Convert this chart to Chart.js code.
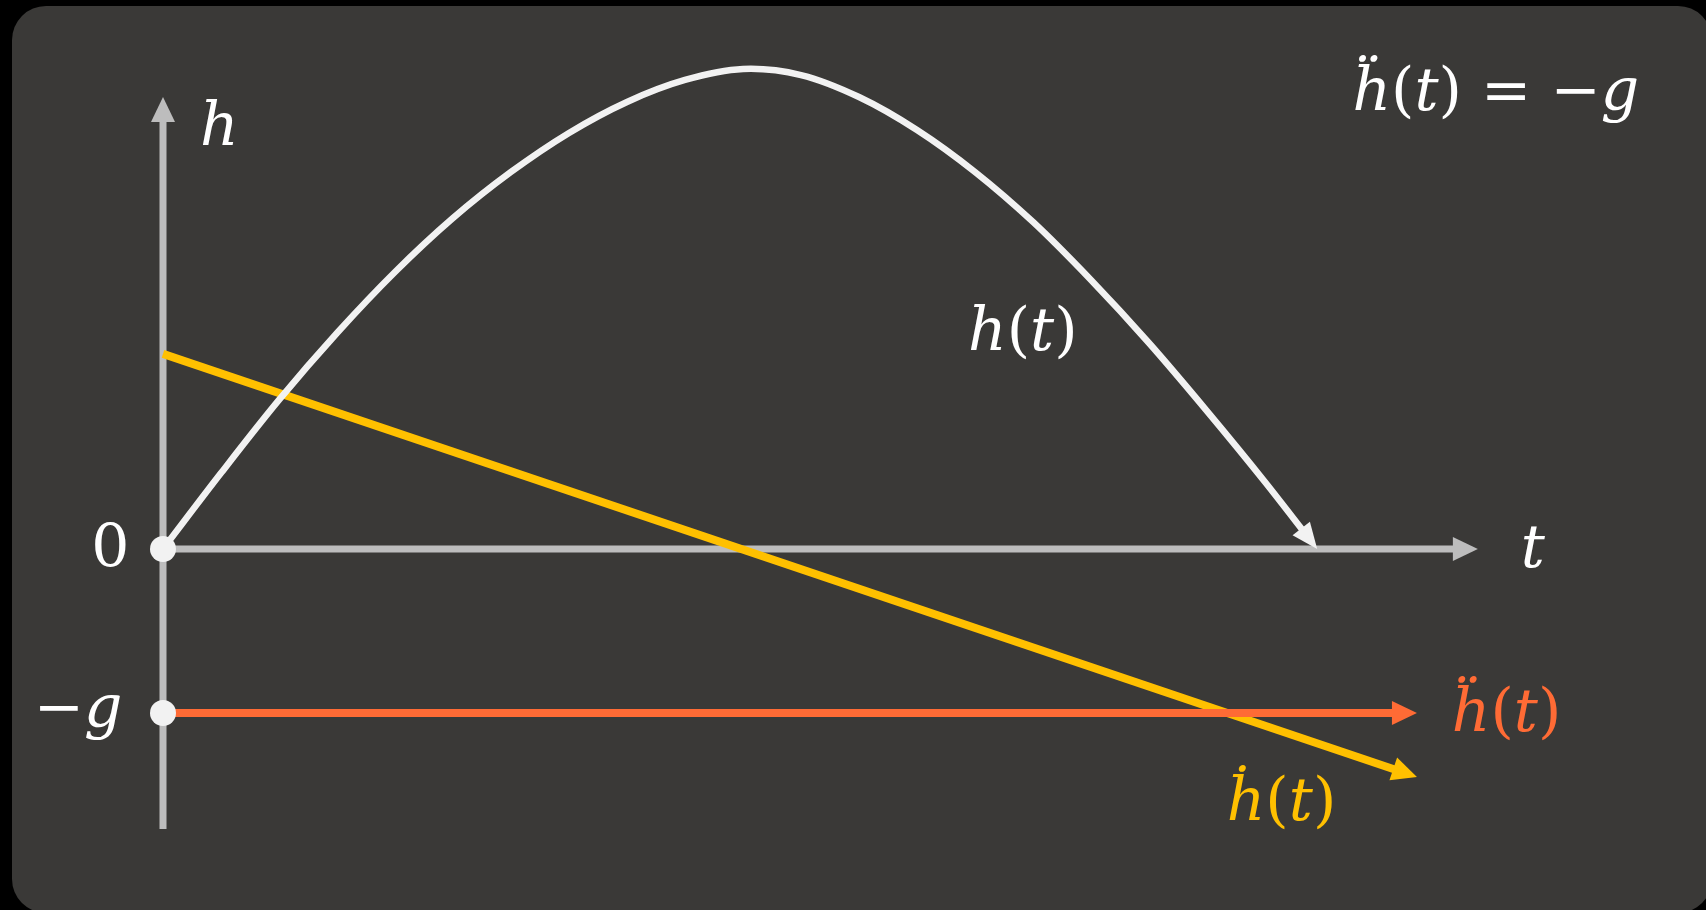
<!DOCTYPE html>
<html lang="en">
<head>
    <meta charset="UTF-8">
    <title>h(t), ḣ(t), ḧ(t)</title>
    <script src="https://cdn.jsdelivr.net/npm/chart.js"></script>
    <style>
        html, body { margin: 0; padding: 0; background: #000; overflow: hidden; }
        .panel { position: absolute; left: 12px; top: 6px; width: 1700px; height: 907px;
                 border-radius: 34px; background: #3a3937; }
        #plot { position: absolute; left: 0; top: 0; }
    </style>
</head>
<body>
    <div class="panel"></div>
    <canvas id="plot" width="1706" height="910"></canvas>

    <script>
        // height of the thrown object, h(t)
        var curveT = [0, 0.1, 0.2, 0.3, 0.4, 0.5, 0.6, 0.7, 0.8, 0.9, 1.0, 1.1, 1.2, 1.3, 1.4, 1.5, 1.6, 1.7, 1.8, 1.9, 1.99];
        var curveH = [0, 0.463, 0.909, 1.317, 1.689, 2.018, 2.299, 2.537, 2.726, 2.860, 2.927,
                      2.890, 2.756, 2.555, 2.299, 1.994, 1.640, 1.256, 0.841, 0.409, 0];

        // velocity ḣ(t): straight line from v0 down past zero
        var velT = [0, 2.162];
        var velH = [1.19, -1.39];

        // acceleration ḧ(t) = -g
        var accT = [0, 2.162];
        var accH = [-1, -1];

        // axes
        var tAxisT = [0, 2.267];
        var hAxisH = [-1.707, 2.756];

        // marked values on the h axis: 0 and -g
        var markH = [0, -1];

        // layout: pixels per unit and where the origin sits on the canvas
        var PX_T = 580, PX_H = 164, ORIGIN_X = 163, ORIGIN_Y = 549;
        var W = 1706, H = 910;

        var GRAY = '#bdbdbd', WHITE = '#f2f2f2', YELLOW = '#ffc000', ORANGE = '#ff6b35';
        var FONT = '"DejaVu Serif", "Liberation Serif", serif';
        var SIZE = 60;

        function pts(xs, ys) {
            return xs.map(function (x, i) { return { x: x, y: ys[i] }; });
        }

        // text labels: runs of [text, italic?]
        var labels = [
            { runs: [['h', 1]], t: 0.064, h: 2.463, align: 'left', color: '#ffffff' },
            { runs: [['t', 1]], t: 2.341, h: -0.110, align: 'left', color: '#ffffff' },
            { runs: [['0', 0]], t: -0.058, h: -0.110, align: 'right', color: '#ffffff' },
            { runs: [['\u2212', 0], ['g', 1]], t: -0.070, h: -1.085, align: 'right', color: '#ffffff' },
            { runs: [['h', 1], ['(', 0], ['t', 1], [')', 0]], t: 1.388, h: 1.214, align: 'left', color: '#ffffff' },
            { runs: [['\u1e23', 1], ['(', 0], ['t', 1], [')', 0]], t: 1.834, h: -1.652, align: 'left', color: YELLOW },
            { runs: [['\u1e27', 1], ['(', 0], ['t', 1], [')', 0]], t: 2.222, h: -1.110, align: 'left', color: ORANGE },
            { runs: [['\u1e27', 1], ['(', 0], ['t', 1], [') = \u2212', 0], ['g', 1]], t: 2.545, h: 2.677, align: 'right', color: '#ffffff' }
        ];

        function arrowGeom(chart, index) {
            var ds = chart.data.datasets[index];
            var p = chart.getDatasetMeta(index).data;
            var a = p[p.length - 2], b = p[p.length - 1];
            var dx = b.x - a.x, dy = b.y - a.y, d = Math.hypot(dx, dy);
            return { tx: b.x, ty: b.y, ux: dx / d, uy: dy / d, len: ds.arrowLen, half: ds.arrowHalf };
        }

        // hide the stroke under the arrow head, then draw the head
        var arrowHeads = {
            id: 'arrowHeads',
            beforeDatasetDraw: function (chart, args) {
                var ds = chart.data.datasets[args.index];
                if (!ds.arrowLen) return;
                var g = arrowGeom(chart, args.index), ctx = chart.ctx;
                var bx = g.tx - g.ux * g.len, by = g.ty - g.uy * g.len;
                var px = -g.uy * g.half * 1.5, py = g.ux * g.half * 1.5;
                var ex = g.tx + g.ux * 12, ey = g.ty + g.uy * 12;
                ctx.save();
                ctx.beginPath();
                ctx.rect(0, 0, chart.width, chart.height);
                ctx.moveTo(bx + px, by + py);
                ctx.lineTo(ex + px, ey + py);
                ctx.lineTo(ex - px, ey - py);
                ctx.lineTo(bx - px, by - py);
                ctx.closePath();
                ctx.clip('evenodd');
            },
            afterDatasetDraw: function (chart, args) {
                var ds = chart.data.datasets[args.index];
                if (!ds.arrowLen) return;
                var ctx = chart.ctx;
                ctx.restore();
                var g = arrowGeom(chart, args.index);
                var bx = g.tx - g.ux * (g.len + 1), by = g.ty - g.uy * (g.len + 1);
                var px = -g.uy * g.half, py = g.ux * g.half;
                ctx.save();
                ctx.fillStyle = ds.borderColor;
                ctx.beginPath();
                ctx.moveTo(g.tx, g.ty);
                ctx.lineTo(bx + px, by + py);
                ctx.lineTo(bx - px, by - py);
                ctx.closePath();
                ctx.fill();
                ctx.restore();
            }
        };

        var mathLabels = {
            id: 'mathLabels',
            afterDraw: function (chart) {
                var ctx = chart.ctx, xs = chart.scales.x, ys = chart.scales.y;
                ctx.save();
                ctx.textBaseline = 'alphabetic';
                ctx.textAlign = 'left';
                labels.forEach(function (lb) {
                    var total = 0;
                    lb.runs.forEach(function (r) {
                        ctx.font = (r[1] ? 'italic ' : '') + SIZE + 'px ' + FONT;
                        total += ctx.measureText(r[0]).width;
                    });
                    var x = xs.getPixelForValue(lb.t), y = ys.getPixelForValue(lb.h);
                    if (lb.align === 'right') x -= total;
                    ctx.fillStyle = lb.color;
                    lb.runs.forEach(function (r) {
                        ctx.font = (r[1] ? 'italic ' : '') + SIZE + 'px ' + FONT;
                        ctx.fillText(r[0], x, y);
                        x += ctx.measureText(r[0]).width;
                    });
                });
                ctx.restore();
            }
        };

        function line(data, color, width, extra) {
            var ds = {
                data: data, showLine: true, borderColor: color, backgroundColor: color,
                borderWidth: width, pointRadius: 0, borderCapStyle: 'butt', clip: false
            };
            for (var k in extra) ds[k] = extra[k];
            return ds;
        }

        new Chart(document.getElementById('plot').getContext('2d'), {
            type: 'scatter',
            data: {
                // first dataset is drawn on top
                datasets: [
                    {
                        data: pts([0, 0], markH), pointRadius: 13, pointHoverRadius: 13,
                        pointBackgroundColor: WHITE, pointBorderWidth: 0, showLine: false, clip: false
                    },
                    line(pts(accT, accH), ORANGE, 8, { arrowLen: 24, arrowHalf: 12 }),
                    line(pts(curveT, curveH), WHITE, 6.5, { arrowLen: 25, arrowHalf: 11, tension: 0.33 }),
                    line(pts(velT, velH), YELLOW, 8, { arrowLen: 24, arrowHalf: 12 }),
                    line(pts(tAxisT, [0, 0]), GRAY, 7, { arrowLen: 24, arrowHalf: 12 }),
                    line(pts([0, 0], hAxisH), GRAY, 7, { arrowLen: 24, arrowHalf: 12 })
                ]
            },
            options: {
                responsive: false,
                animation: false,
                events: [],
                layout: { padding: 0, autoPadding: false },
                plugins: { legend: { display: false }, tooltip: { enabled: false } },
                scales: {
                    x: { type: 'linear', display: false, min: -ORIGIN_X / PX_T, max: (W - ORIGIN_X) / PX_T },
                    y: { type: 'linear', display: false, min: -(H - ORIGIN_Y) / PX_H, max: ORIGIN_Y / PX_H }
                }
            },
            plugins: [arrowHeads, mathLabels]
        });
    </script>
</body>
</html>
